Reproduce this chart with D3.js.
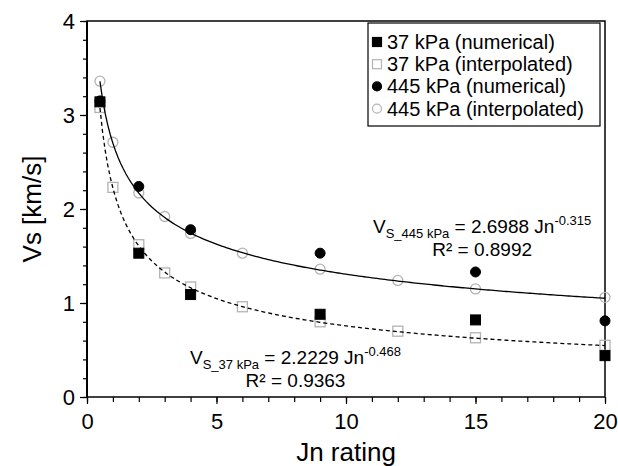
<!DOCTYPE html>
<html>
<head>
<meta charset="utf-8">
<script src="https://cdn.jsdelivr.net/npm/d3@7"></script>
<style>
  body { margin: 0; background: #fff; }
  svg { font-family: "Liberation Sans", Arial, sans-serif; }
</style>
</head>
<body>
<div id="chart"></div>
<script>
// data
const jnNum = [0.5, 2, 4, 9, 15, 20];
const vs37Num = [3.14, 1.53, 1.09, 0.88, 0.82, 0.44];
const vs445Num = [3.15, 2.24, 1.78, 1.53, 1.33, 0.81];

const jnInt = [0.5, 1, 2, 3, 4, 6, 9, 12, 15, 20];
const vs37Int = [3.08, 2.23, 1.62, 1.32, 1.17, 0.96, 0.80, 0.70, 0.63, 0.55];
const vs445Int = [3.36, 2.71, 2.17, 1.92, 1.74, 1.53, 1.36, 1.24, 1.15, 1.06];

// power trendlines as printed on the chart: a * Jn^b
const fit37 = [2.2229, -0.468];
const fit445 = [2.6988, -0.315];

const legendLabels = ["37 kPa (numerical)", "37 kPa (interpolated)", "445 kPa (numerical)", "445 kPa (interpolated)"];
const xTicks = [0, 5, 10, 15, 20];
const yTicks = [0, 1, 2, 3, 4];

const W = 618, H = 466;
const margin = { top: 21, right: 13, bottom: 69, left: 87 };
const width = W - margin.left - margin.right;
const height = H - margin.top - margin.bottom;
const gray = "#b3b3b3";

const svg = d3.select("#chart").append("svg")
  .attr("width", W).attr("height", H);

const g = svg.append("g")
  .attr("transform", `translate(${margin.left},${margin.top})`);

const x = d3.scaleLinear().domain([0, 20]).range([0, width]);
const y = d3.scaleLinear().domain([0, 4]).range([height, 0]);

// minor ticks
g.append("g")
  .attr("transform", `translate(0,${height})`)
  .call(d3.axisBottom(x).ticks(20).tickSize(5).tickFormat(""))
  .call(a => a.select(".domain").remove());
g.append("g")
  .call(d3.axisLeft(y).tickValues(d3.range(0, 4.01, 0.2)).tickSize(4).tickFormat(""))
  .call(a => a.select(".domain").remove());

// major ticks + labels
g.append("g")
  .attr("transform", `translate(0,${height})`)
  .call(d3.axisBottom(x).tickValues(xTicks).tickSize(7).tickPadding(9).tickFormat(d3.format("d")))
  .call(a => a.select(".domain").remove())
  .call(a => a.selectAll("text").attr("font-size", 22).attr("fill", "#000"));
g.append("g")
  .call(d3.axisLeft(y).tickValues(yTicks).tickSize(7).tickPadding(5).tickFormat(d3.format("d")))
  .call(a => a.select(".domain").remove())
  .call(a => a.selectAll("text").attr("font-size", 22).attr("fill", "#000"));

g.selectAll(".tick line").attr("stroke", "#000").attr("stroke-width", 1.2);

// plot frame
g.append("rect")
  .attr("width", width).attr("height", height)
  .attr("fill", "none").attr("stroke", "#000").attr("stroke-width", 1.5);
g.append("line")
  .attr("x1", 0).attr("x2", 0).attr("y1", 0).attr("y2", height)
  .attr("stroke", "#000").attr("stroke-width", 2);

// markers
const sq = 10, r = 5;
function squares(xs, ys, filled) {
  g.append("g").selectAll("rect").data(xs).join("rect")
    .attr("x", (d) => x(d) - sq / 2)
    .attr("y", (d, i) => y(ys[i]) - sq / 2)
    .attr("width", sq).attr("height", sq)
    .attr("fill", filled ? "#000" : "none")
    .attr("stroke", filled ? "#000" : gray)
    .attr("stroke-width", filled ? 1 : 1.3);
}
function circles(xs, ys, filled) {
  g.append("g").selectAll("circle").data(xs).join("circle")
    .attr("cx", (d) => x(d))
    .attr("cy", (d, i) => y(ys[i]))
    .attr("r", r)
    .attr("fill", filled ? "#000" : "none")
    .attr("stroke", filled ? "#000" : gray)
    .attr("stroke-width", filled ? 1 : 1.3);
}
squares(jnInt, vs37Int, false);
circles(jnInt, vs445Int, false);
squares(jnNum, vs37Num, true);
circles(jnNum, vs445Num, true);

// trendlines
const jnLine = d3.range(0.5, 20.001, 0.1);
const curve = (fit) => d3.line()
  .x((d) => x(d))
  .y((d) => y(fit[0] * Math.pow(d, fit[1])));
g.append("path").datum(jnLine)
  .attr("d", curve(fit445))
  .attr("fill", "none").attr("stroke", "#000").attr("stroke-width", 1.3);
g.append("path").datum(jnLine)
  .attr("d", curve(fit37))
  .attr("fill", "none").attr("stroke", "#000").attr("stroke-width", 1.3)
  .attr("stroke-dasharray", "4,3");

// equations
function equation(xPos, yPos, sub, fit, r2) {
  const t = svg.append("text")
    .attr("x", xPos).attr("y", yPos)
    .attr("font-size", 19).attr("fill", "#000");
  t.append("tspan").text("V");
  t.append("tspan").attr("font-size", 13).attr("dy", 5).text(sub);
  t.append("tspan").attr("dy", -5).text(` = ${fit[0].toFixed(4)} Jn`);
  t.append("tspan").attr("font-size", 13).attr("dy", -8).text(fit[1].toFixed(3));
  const box = t.node().getBBox();
  svg.append("text")
    .attr("x", box.x + box.width / 2).attr("y", yPos + 23)
    .attr("text-anchor", "middle")
    .attr("font-size", 19).attr("fill", "#000")
    .text(`R² = ${r2}`);
}
equation(373, 233, "S_445 kPa", fit445, "0.8992");
equation(190, 364, "S_37 kPa", fit37, "0.9363");

// legend
const lg = svg.append("g");
lg.append("rect")
  .attr("x", 368).attr("y", 23).attr("width", 232).attr("height", 103)
  .attr("fill", "#fff").attr("stroke", "#000").attr("stroke-width", 1.2);
const rowY = (i) => 42 + i * 22.2;
legendLabels.forEach((lab, i) => {
  const cy = rowY(i);
  const cx = 377;
  if (i === 0 || i === 1) {
    lg.append("rect")
      .attr("x", cx - 4.5).attr("y", cy - 4.5).attr("width", 9).attr("height", 9)
      .attr("fill", i === 0 ? "#000" : "none")
      .attr("stroke", i === 0 ? "#000" : gray).attr("stroke-width", 1.2);
  } else {
    lg.append("circle")
      .attr("cx", cx).attr("cy", cy).attr("r", 4.5)
      .attr("fill", i === 2 ? "#000" : "none")
      .attr("stroke", i === 2 ? "#000" : gray).attr("stroke-width", 1.2);
  }
  lg.append("text")
    .attr("x", 387).attr("y", cy + 7)
    .attr("font-size", 20).attr("fill", "#000")
    .text(lab);
});

// axis titles
svg.append("text")
  .attr("x", margin.left + width / 2).attr("y", 461)
  .attr("text-anchor", "middle").attr("font-size", 26)
  .text("Jn rating");
svg.append("text")
  .attr("transform", `translate(41,${margin.top + height / 2}) rotate(-90)`)
  .attr("text-anchor", "middle").attr("font-size", 26)
  .text("Vs [km/s]");
</script>
</body>
</html>
